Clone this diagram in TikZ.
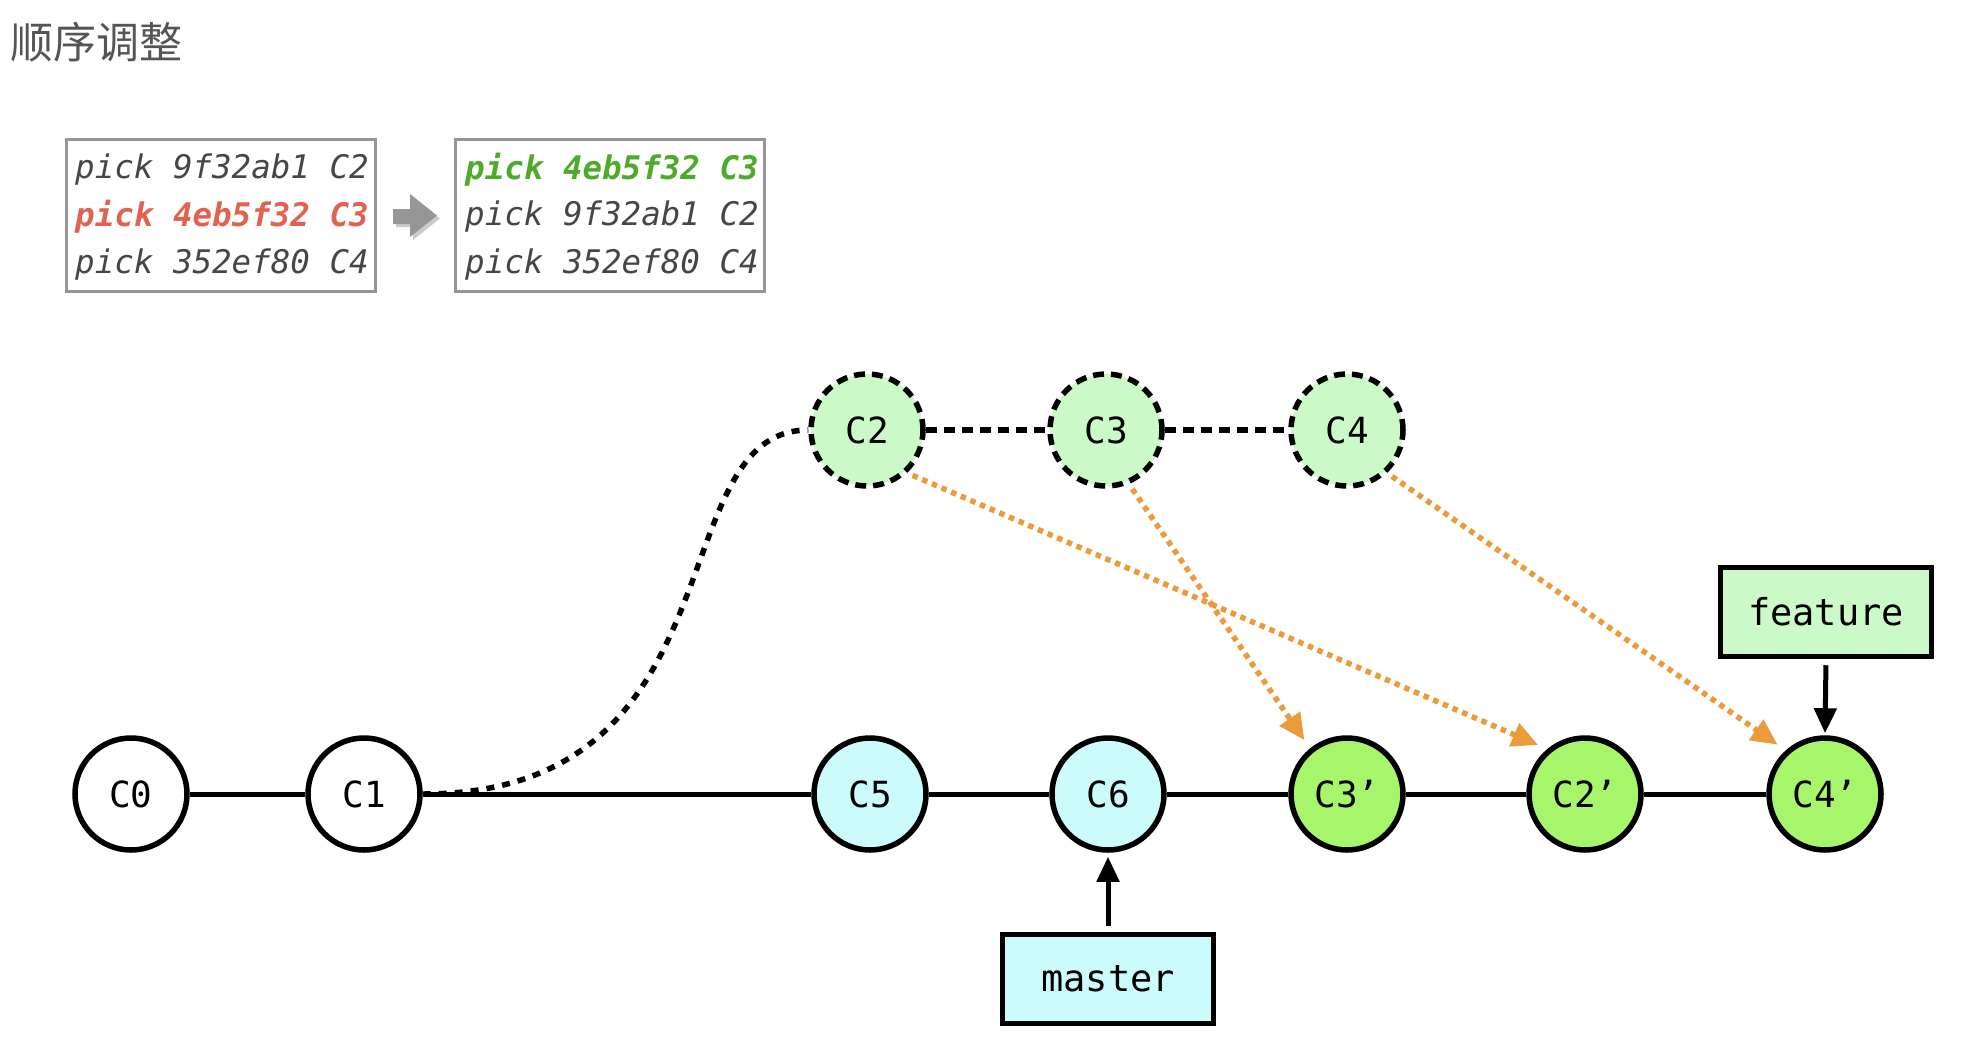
\documentclass[tikz,border=0pt]{standalone}
\usepackage{fontspec}
\setmonofont{DejaVu Sans Mono}
\newfontfamily\cjkfont{Noto Sans CJK SC}
\usetikzlibrary{arrows.meta}

\definecolor{titlegray}{RGB}{85,85,85}
\definecolor{textgray}{RGB}{70,70,70}
\definecolor{boxgray}{RGB}{150,150,150}
\definecolor{pickred}{RGB}{226,98,82}
\definecolor{pickgreen}{RGB}{78,170,42}
\definecolor{basefill}{RGB}{255,255,255}
\definecolor{masterfill}{RGB}{204,251,252}
\definecolor{newfill}{RGB}{166,245,106}
\definecolor{oldfill}{RGB}{204,249,200}
\definecolor{movecolor}{RGB}{236,155,59}

\begin{document}
\begin{tikzpicture}[x=1pt,y=-1pt,
  commit/.style={circle, draw=black, line width=5.5pt, minimum size=112pt,
    inner sep=0pt, font=\ttfamily\fontsize{36}{42}\selectfont},
  oldcommit/.style={commit, fill=oldfill, dash pattern=on 11pt off 7pt},
  branchbox/.style={draw=black, line width=5.5pt, minimum width=211pt,
    minimum height=89pt, inner sep=0pt, font=\ttfamily\fontsize{37}{44}\selectfont},
  listbox/.style={draw=boxgray, line width=3.5pt, fill=white,
    minimum width=309pt, minimum height=152pt, inner sep=0pt},
  pickline/.style={anchor=west, inner sep=0pt, text=textgray,
    font=\ttfamily\itshape\fontsize{32.5}{38}\selectfont},
  history/.style={line width=5pt},
  moved/.style={line width=5.5pt, dash pattern=on 11pt off 7pt},
  replay/.style={draw=movecolor, line width=5.5pt, dash pattern=on 5.5pt off 5pt,
    -{Triangle[length=26pt,width=24pt]}, shorten <=6pt, shorten >=10pt},
  pointer/.style={line width=5pt, -{Triangle[length=25pt,width=22pt]}}
]
\useasboundingbox[fill=white] (0,0) rectangle (1988,1054);

% heading
\node[anchor=west, inner sep=0pt, text=titlegray,
  font=\cjkfont\fontsize{43}{50}\selectfont] (title) at (10,42) {顺序调整};

% todo lists before and after reordering
\node[listbox] (oldlist) at (221,215.5) {};
\node[pickline] (o1) at (75,170) {pick 9f32ab1 C2};
\node[pickline, text=pickred, font=\ttfamily\bfseries\itshape\fontsize{32.5}{38}\selectfont] (o2) at (75,217) {pick 4eb5f32 C3};
\node[pickline] (o3) at (75,265) {pick 352ef80 C4};

\fill[boxgray!50] (396,212) -- (413,212) -- (413,197) -- (440,218.5) -- (413,240) -- (413,227) -- (396,227) -- cycle;
\fill[boxgray] (393,209) -- (410,209) -- (410,194) -- (437,215.5) -- (410,237) -- (410,224) -- (393,224) -- cycle;

\node[listbox] (newlist) at (610,215.5) {};
\node[pickline, text=pickgreen, font=\ttfamily\bfseries\itshape\fontsize{32.5}{38}\selectfont] (n1) at (465,170) {pick 4eb5f32 C3};
\node[pickline] (n2) at (465,217) {pick 9f32ab1 C2};
\node[pickline] (n3) at (465,265) {pick 352ef80 C4};

% commits on the main line
\node[commit, fill=basefill] (C0) at (131,794) {C0};
\node[commit, fill=basefill] (C1) at (364,794) {C1};
\node[commit, fill=masterfill] (C5) at (870,794) {C5};
\node[commit, fill=masterfill] (C6) at (1108,794) {C6};
\node[commit, fill=newfill] (C3p) at (1347,794) {C3’};
\node[commit, fill=newfill] (C2p) at (1585,794) {C2’};
\node[commit, fill=newfill] (C4p) at (1825,794) {C4’};

% original feature commits
\node[oldcommit] (C2) at (867,430) {C2};
\node[oldcommit] (C3) at (1106,430) {C3};
\node[oldcommit] (C4) at (1347,430) {C4};

% history
\draw[history] (C0) -- (C1) -- (C5) -- (C6) -- (C3p) -- (C2p) -- (C4p);
\draw[moved] (C2) -- (C3) -- (C4);
\draw[line width=5.5pt, dash pattern=on 8pt off 8pt]
  (C1.east) .. controls +(323,0) and +(-150,0) .. (C2.west);

% replayed commits
\draw[replay] (C2.-47) -- (C2p.130);
\draw[replay] (C3.-67) -- (C3p.129);
\draw[replay] (C4.-47) -- (C4p.132);

% branch pointers
\node[branchbox, fill=oldfill] (feature) at (1826,612) {feature};
\node[branchbox, fill=masterfill] (master) at (1108,979) {master};
\draw[pointer, shorten <=6pt, shorten >=2pt] (feature.south) -- (C4p.north);
\draw[pointer, shorten <=6pt, shorten >=4pt] (master.north) -- (C6.south);
\end{tikzpicture}
\end{document}
